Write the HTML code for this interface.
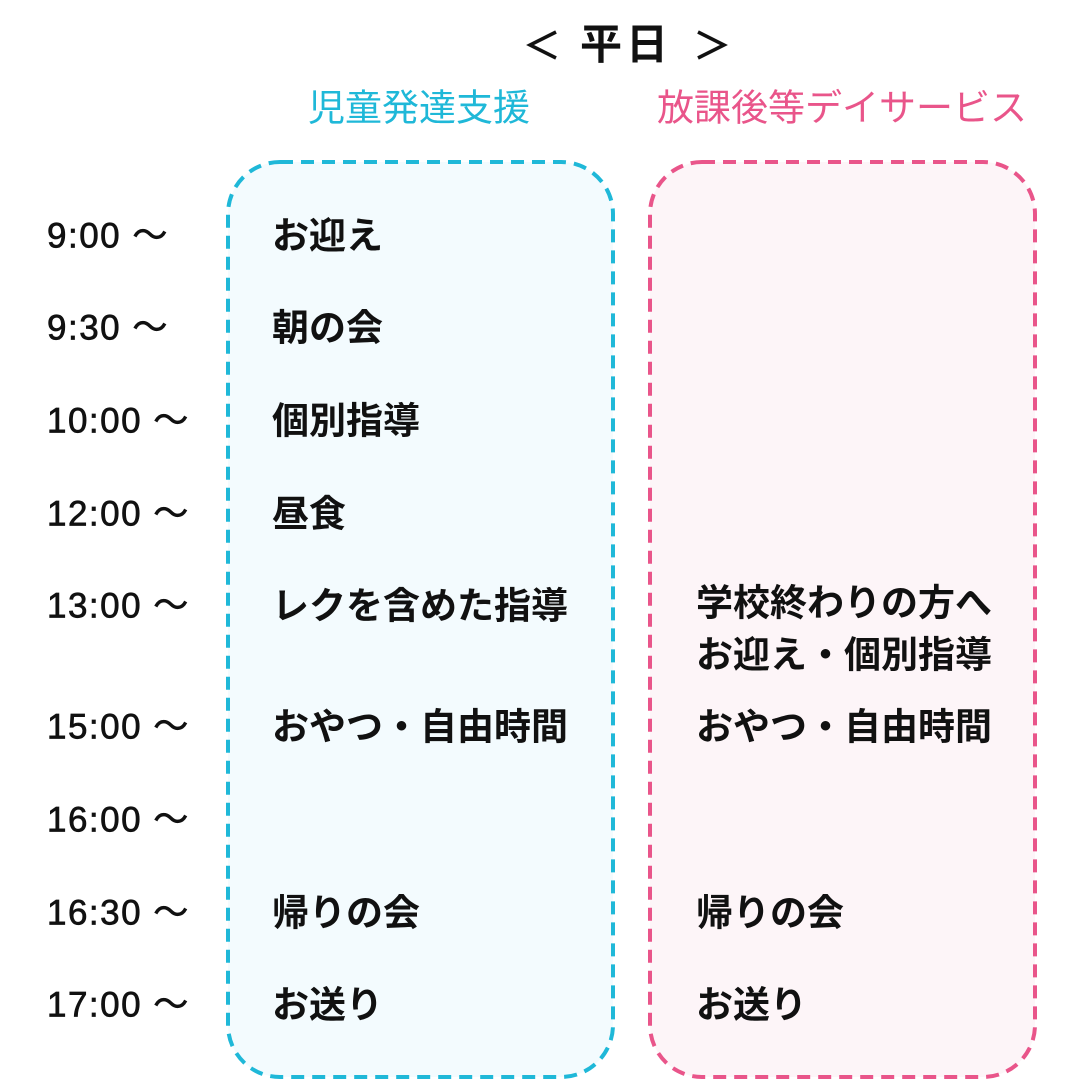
<!DOCTYPE html>
<html><head><meta charset="utf-8"><style>
body{margin:0;width:1080px;height:1080px;background:#fff;position:relative;overflow:hidden;font-family:"Liberation Sans","Noto Sans CJK JP",sans-serif;font-weight:bold;color:#111}
.t{position:absolute;white-space:nowrap;line-height:1;transform:translateY(-50%)}
.tm{font-size:35px;left:47px;font-weight:normal;-webkit-text-stroke:0.7px #111;letter-spacing:1.5px}
.b{font-size:37px}
</style></head><body>
<svg width="1080" height="1080" style="position:absolute;left:0;top:0">
<rect x="228" y="162" width="385" height="915" rx="52" fill="#f3fbfe" stroke="#1fb8d8" stroke-width="4" stroke-dasharray="13 8"/>
<rect x="650" y="162" width="385" height="915" rx="52" fill="#fdf5f8" stroke="#e9558a" stroke-width="4" stroke-dasharray="13 8"/>
<polyline points="556,32 530,45 556,58" fill="none" stroke="#111" stroke-width="3.5"/>
<polyline points="698,32 724,45 698,58" fill="none" stroke="#111" stroke-width="3.5"/>
</svg>
<div class="t" style="left:580px;top:45px;font-size:42px;letter-spacing:4px">平日</div>
<div class="t" style="left:308px;top:108px;font-size:37px;color:#1fb8d8;font-weight:normal">児童発達支援</div>
<div class="t" style="left:657px;top:108px;font-size:37px;color:#e9558a;font-weight:normal">放課後等デイサービス</div>

<div class="t tm" style="top:236px">9:00 〜</div>
<div class="t tm" style="top:328px">9:30 〜</div>
<div class="t tm" style="top:421px">10:00 〜</div>
<div class="t tm" style="top:514px">12:00 〜</div>
<div class="t tm" style="top:606px">13:00 〜</div>
<div class="t tm" style="top:727px">15:00 〜</div>
<div class="t tm" style="top:820px">16:00 〜</div>
<div class="t tm" style="top:913px">16:30 〜</div>
<div class="t tm" style="top:1005px">17:00 〜</div>

<div class="t b" style="left:272px;top:236px">お迎え</div>
<div class="t b" style="left:272px;top:328px">朝の会</div>
<div class="t b" style="left:272px;top:421px">個別指導</div>
<div class="t b" style="left:272px;top:514px">昼食</div>
<div class="t b" style="left:272px;top:606px">レクを含めた指導</div>
<div class="t b" style="left:272px;top:727px">おやつ・自由時間</div>
<div class="t b" style="left:272px;top:913px">帰りの会</div>
<div class="t b" style="left:272px;top:1005px">お送り</div>

<div class="t b" style="left:696px;top:603px">学校終わりの方へ</div>
<div class="t b" style="left:696px;top:655px">お迎え・個別指導</div>
<div class="t b" style="left:696px;top:727px">おやつ・自由時間</div>
<div class="t b" style="left:696px;top:913px">帰りの会</div>
<div class="t b" style="left:696px;top:1005px">お送り</div>
</body></html>
